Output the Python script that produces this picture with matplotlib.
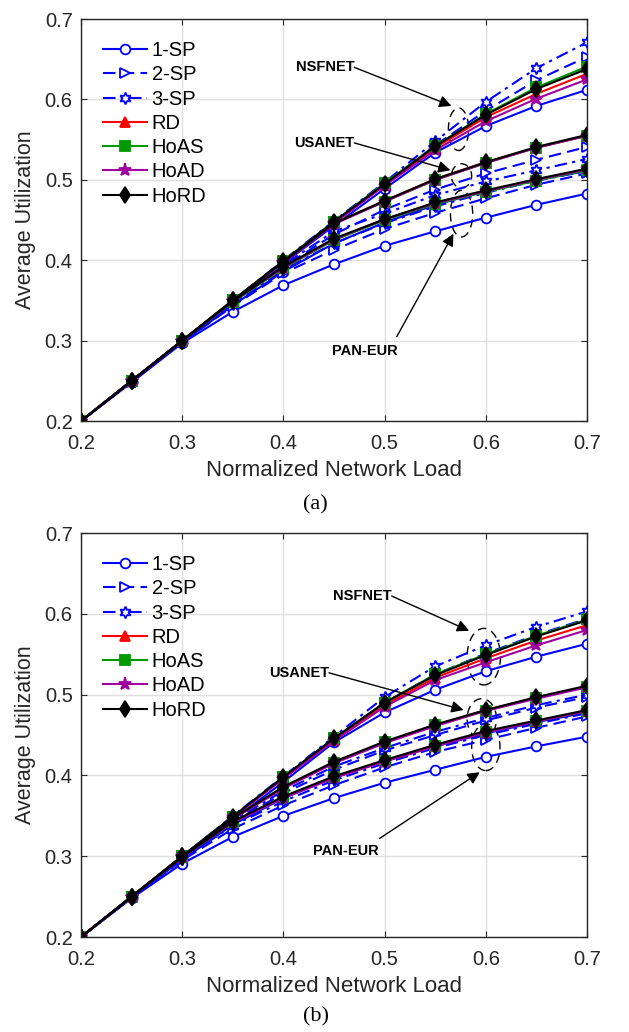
import matplotlib
matplotlib.use("Agg")
import matplotlib.pyplot as plt
from matplotlib.patches import Ellipse

plt.rcParams['font.family'] = ['Liberation Sans', 'DejaVu Sans']

# normalized network load
X = [0.2, 0.25, 0.3, 0.35, 0.4, 0.45, 0.5, 0.55, 0.6, 0.65, 0.7]
ALGOS = ['1-SP', '2-SP', '3-SP', 'RD', 'HoAS', 'HoAD', 'HoRD']

# (a)
a_nsfnet = {
    '1-SP': [0.200, 0.249, 0.299, 0.348, 0.396, 0.443, 0.489, 0.534, 0.567, 0.592, 0.612],
    '2-SP': [0.200, 0.250, 0.300, 0.350, 0.399, 0.447, 0.494, 0.543, 0.586, 0.624, 0.653],
    '3-SP': [0.200, 0.250, 0.300, 0.350, 0.400, 0.449, 0.497, 0.548, 0.597, 0.639, 0.671],
    'RD':   [0.200, 0.250, 0.300, 0.350, 0.399, 0.447, 0.494, 0.540, 0.578, 0.607, 0.632],
    'HoAS': [0.200, 0.250, 0.300, 0.350, 0.399, 0.448, 0.496, 0.542, 0.582, 0.615, 0.641],
    'HoAD': [0.200, 0.250, 0.300, 0.349, 0.398, 0.446, 0.493, 0.537, 0.573, 0.601, 0.625],
    'HoRD': [0.200, 0.250, 0.300, 0.350, 0.399, 0.448, 0.495, 0.542, 0.581, 0.613, 0.638],
}
a_usanet = {
    '1-SP': [0.200, 0.249, 0.298, 0.344, 0.386, 0.421, 0.447, 0.469, 0.486, 0.500, 0.511],
    '2-SP': [0.200, 0.250, 0.299, 0.347, 0.392, 0.432, 0.463, 0.488, 0.508, 0.525, 0.541],
    '3-SP': [0.200, 0.250, 0.299, 0.348, 0.394, 0.436, 0.458, 0.481, 0.498, 0.512, 0.526],
    'RD':   [0.200, 0.250, 0.300, 0.350, 0.398, 0.446, 0.474, 0.501, 0.522, 0.540, 0.555],
    'HoAS': [0.200, 0.250, 0.300, 0.350, 0.398, 0.446, 0.473, 0.500, 0.521, 0.540, 0.555],
    'HoAD': [0.200, 0.250, 0.300, 0.349, 0.397, 0.445, 0.473, 0.500, 0.521, 0.540, 0.555],
    'HoRD': [0.200, 0.250, 0.300, 0.350, 0.398, 0.446, 0.474, 0.501, 0.522, 0.541, 0.556],
}
a_paneur = {
    '1-SP': [0.200, 0.248, 0.297, 0.336, 0.369, 0.395, 0.418, 0.436, 0.453, 0.469, 0.483],
    '2-SP': [0.200, 0.249, 0.298, 0.343, 0.384, 0.413, 0.439, 0.459, 0.477, 0.494, 0.508],
    '3-SP': [0.200, 0.250, 0.299, 0.346, 0.388, 0.421, 0.446, 0.467, 0.484, 0.499, 0.511],
    'RD':   [0.200, 0.250, 0.300, 0.349, 0.391, 0.426, 0.451, 0.471, 0.486, 0.500, 0.513],
    'HoAS': [0.200, 0.250, 0.300, 0.348, 0.390, 0.425, 0.450, 0.470, 0.485, 0.499, 0.512],
    'HoAD': [0.200, 0.250, 0.300, 0.349, 0.391, 0.426, 0.451, 0.471, 0.486, 0.500, 0.513],
    'HoRD': [0.200, 0.250, 0.300, 0.349, 0.392, 0.427, 0.451, 0.472, 0.487, 0.501, 0.514],
}

# (b)
b_nsfnet = {
    '1-SP': [0.200, 0.249, 0.297, 0.345, 0.392, 0.441, 0.478, 0.506, 0.529, 0.547, 0.563],
    '2-SP': [0.200, 0.250, 0.300, 0.349, 0.398, 0.446, 0.490, 0.525, 0.551, 0.574, 0.594],
    '3-SP': [0.200, 0.250, 0.300, 0.350, 0.399, 0.448, 0.497, 0.535, 0.561, 0.584, 0.603],
    'RD':   [0.200, 0.250, 0.300, 0.348, 0.397, 0.444, 0.487, 0.521, 0.545, 0.567, 0.586],
    'HoAS': [0.200, 0.250, 0.300, 0.349, 0.398, 0.446, 0.490, 0.525, 0.550, 0.573, 0.593],
    'HoAD': [0.200, 0.250, 0.300, 0.348, 0.396, 0.443, 0.485, 0.518, 0.540, 0.561, 0.580],
    'HoRD': [0.200, 0.250, 0.300, 0.349, 0.398, 0.446, 0.490, 0.524, 0.549, 0.572, 0.592],
}
b_usanet = {
    '1-SP': [0.200, 0.249, 0.296, 0.339, 0.372, 0.397, 0.418, 0.436, 0.452, 0.466, 0.478],
    '2-SP': [0.200, 0.249, 0.298, 0.342, 0.378, 0.407, 0.431, 0.450, 0.468, 0.484, 0.497],
    '3-SP': [0.200, 0.250, 0.299, 0.344, 0.381, 0.411, 0.434, 0.454, 0.471, 0.487, 0.500],
    'RD':   [0.200, 0.250, 0.300, 0.347, 0.385, 0.416, 0.441, 0.462, 0.481, 0.496, 0.510],
    'HoAS': [0.200, 0.250, 0.300, 0.347, 0.385, 0.416, 0.441, 0.462, 0.480, 0.496, 0.510],
    'HoAD': [0.200, 0.250, 0.299, 0.346, 0.384, 0.415, 0.440, 0.461, 0.480, 0.495, 0.509],
    'HoRD': [0.200, 0.250, 0.300, 0.347, 0.386, 0.417, 0.442, 0.463, 0.481, 0.497, 0.511],
}
b_paneur = {
    '1-SP': [0.200, 0.248, 0.291, 0.324, 0.350, 0.372, 0.391, 0.407, 0.423, 0.436, 0.448],
    '2-SP': [0.200, 0.249, 0.295, 0.334, 0.363, 0.388, 0.410, 0.429, 0.444, 0.459, 0.473],
    '3-SP': [0.200, 0.249, 0.297, 0.338, 0.368, 0.394, 0.415, 0.434, 0.450, 0.464, 0.477],
    'RD':   [0.200, 0.250, 0.299, 0.342, 0.373, 0.398, 0.418, 0.437, 0.454, 0.467, 0.480],
    'HoAS': [0.200, 0.250, 0.299, 0.342, 0.373, 0.398, 0.418, 0.437, 0.454, 0.467, 0.480],
    'HoAD': [0.200, 0.250, 0.299, 0.342, 0.372, 0.397, 0.417, 0.436, 0.453, 0.467, 0.480],
    'HoRD': [0.200, 0.250, 0.299, 0.343, 0.374, 0.399, 0.419, 0.438, 0.455, 0.468, 0.481],
}

STYLE = {
    '1-SP': dict(color='#0000ff', ls='-', marker='o', mfc='white', ms=7),
    '2-SP': dict(color='#0000ff', ls=(0, (6, 3)), marker='>', mfc='white', ms=7.5),
    '3-SP': dict(color='#0000ff', ls=(0, (6, 2.5, 1.5, 2.5)), marker=(6, 1, 0), mfc='white', ms=8.5),
    'RD':   dict(color='#ff0000', ls='-', marker='^', ms=7.5),
    'HoAS': dict(color='#009900', ls='-', marker='s', ms=6.5),
    'HoAD': dict(color='#a000a0', ls='-', marker='*', ms=9.5),
    'HoRD': dict(color='#000000', ls='-', marker='d', ms=8),
}

# annotation layout: (label, text xy, ha, arrow tail, arrow tip, ellipse centre, w, h)
ANN_A = [
    ('NSFNET', (0.470, 0.640), 'right', (0.470, 0.640), (0.566, 0.592), (0.573, 0.563), 0.020, 0.053),
    ('USANET', (0.470, 0.546), 'right', (0.470, 0.546), (0.565, 0.512), (0.576, 0.505), 0.020, 0.030),
    ('PAN-EUR', (0.480, 0.287), 'center', (0.512, 0.305), (0.568, 0.433), (0.576, 0.458), 0.022, 0.058),
]
ANN_B = [
    ('NSFNET', (0.507, 0.622), 'right', (0.507, 0.622), (0.5835, 0.579), (0.598, 0.547), 0.033, 0.070),
    ('USANET', (0.445, 0.527), 'right', (0.445, 0.527), (0.578, 0.481), (0.596, 0.470), 0.029, 0.050),
    ('PAN-EUR', (0.462, 0.306), 'center', (0.495, 0.322), (0.594, 0.404), (0.600, 0.435), 0.028, 0.058),
]


def draw_panel(ax, groups, ann):
    for algo in ALGOS:
        st = STYLE[algo]
        for i, g in enumerate(groups):
            ax.plot(X, g[algo], color=st['color'], ls=st['ls'], lw=1.5,
                    marker=st['marker'], ms=st['ms'],
                    mfc=st.get('mfc', st['color']), mec=st['color'], mew=1.3,
                    label=algo if i == 0 else None)

    for label, txy, ha, tail, tip, c, w, h in ann:
        ax.text(txy[0], txy[1], label, ha=ha, va='center', fontsize=10.5,
                fontweight='bold', zorder=5)
        ax.annotate('', xy=tip, xytext=tail,
                    arrowprops=dict(arrowstyle='-|>', color='k', lw=1,
                                    mutation_scale=18, shrinkA=0, shrinkB=0))
        ax.add_patch(Ellipse(c, w, h, fill=False, ec='k', lw=1, ls=(0, (6, 4))))

    ax.set_xlim(0.2, 0.7)
    ax.set_ylim(0.2, 0.7)
    ax.set_xticks([0.2, 0.3, 0.4, 0.5, 0.6, 0.7])
    ax.set_yticks([0.2, 0.3, 0.4, 0.5, 0.6, 0.7])
    ax.grid(True, color='#e0e0e0', lw=1)
    ax.set_axisbelow(True)
    ax.tick_params(direction='in', top=True, right=True, length=4,
                   labelsize=14.5, colors='#262626', pad=6)
    ax.tick_params(axis='x', pad=9)
    for sp in ax.spines.values():
        sp.set_color('#262626')
        sp.set_linewidth(1)
    ax.set_xlabel('Normalized Network Load', fontsize=16, color='#262626', labelpad=5)
    ax.set_ylabel('Average Utilization', fontsize=15.5, color='#262626', labelpad=6)
    ax.legend(loc='upper left', frameon=False, fontsize=14.5, handlelength=2.2,
              handletextpad=0.2, labelspacing=0.26, borderaxespad=0.6,
              borderpad=0.5)


fig = plt.figure(figsize=(6.29, 10.32), dpi=100)
ax1 = fig.add_axes([0.1288, 0.592, 0.8045, 0.3895])
ax2 = fig.add_axes([0.1288, 0.092, 0.8045, 0.3915])

draw_panel(ax1, [a_nsfnet, a_usanet, a_paneur], ANN_A)
draw_panel(ax2, [b_nsfnet, b_usanet, b_paneur], ANN_B)

fig.text(0.502, 1 - 505 / 1032, '(a)', ha='center', va='center', fontsize=16,
         family=['Liberation Serif', 'DejaVu Serif'])
fig.text(0.502, 1 - 1017 / 1032, '(b)', ha='center', va='center', fontsize=16,
         family=['Liberation Serif', 'DejaVu Serif'])

fig.savefig('out.png', dpi=100)
